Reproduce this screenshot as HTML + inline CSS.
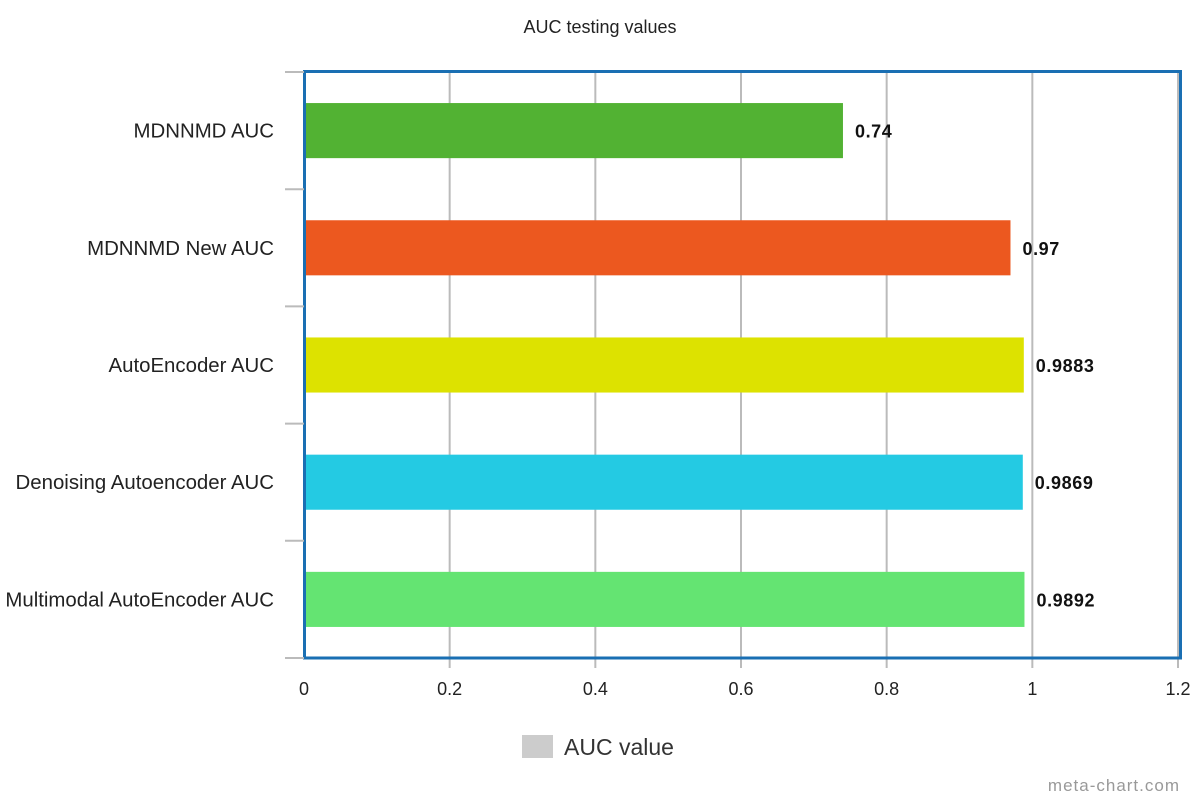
<!DOCTYPE html>
<html><head><meta charset="utf-8"><style>
html,body{margin:0;padding:0;background:#fff;}
svg{display:block;font-family:"Liberation Sans",Arial,sans-serif;}
</style></head><body>
<svg id="chart" width="1200" height="800" viewBox="0 0 1200 800">
<text x="600" y="33" text-anchor="middle" font-size="18" fill="#222">AUC testing values</text>
<g id="grid"></g>
<g id="bars"></g>
<g id="labels"></g>
<rect x="304.5" y="71.5" width="876" height="586.5" fill="none" stroke="#1a6fb3" stroke-width="3"/>
<g id="ticks"></g>
<g>
<rect x="522" y="735" width="31" height="23" fill="#cccccc"/>
<text x="564" y="755" font-size="23" fill="#333">AUC value</text>
</g>
<text x="1180" y="791" text-anchor="end" font-size="17" fill="#999" letter-spacing="1">meta-chart.com</text>
</svg>
<script>
const categories = ["MDNNMD AUC","MDNNMD New AUC","AutoEncoder AUC","Denoising Autoencoder AUC","Multimodal AutoEncoder AUC"];
const values = [0.74, 0.97, 0.9883, 0.9869, 0.9892];
const valueLabels = ["0.74","0.97","0.9883","0.9869","0.9892"];
const barColors = ["#52b233","#ec581f","#dde200","#24cae3","#64e472"];
const xTicks = [0, 0.2, 0.4, 0.6, 0.8, 1, 1.2];
const xTickLabels = ["0","0.2","0.4","0.6","0.8","1","1.2"];

const NS = "http://www.w3.org/2000/svg";
const x0 = 304, x1 = 1178, xmax = 1.2, yTop = 72, yBot = 658;
const xs = v => x0 + (v / xmax) * (x1 - x0);
const rowH = (yBot - yTop) / categories.length;
function mk(tag, attrs, parent){ const e = document.createElementNS(NS, tag); for (const k in attrs) e.setAttribute(k, attrs[k]); parent.appendChild(e); return e; }
const grid = document.getElementById('grid'), bars = document.getElementById('bars'), labels = document.getElementById('labels'), ticks = document.getElementById('ticks');

xTicks.forEach((t, i) => {
  if (t > 0) {
    const g = mk('line', {x1: xs(t), x2: xs(t), y1: yTop, y2: yBot + 10, stroke: '#bbbbbb', 'stroke-width': 2}, grid);
    
    
  }
  const tl = mk('text', {x: xs(t), y: 695, 'text-anchor': 'middle', 'font-size': 18, fill: '#222'}, ticks);
  tl.textContent = xTickLabels[i];
  
  
});
for (let i = 0; i <= categories.length; i++) {
  const y = yTop + i * rowH;
  const tk = mk('line', {x1: 285, x2: 304, y1: y, y2: y, stroke: '#bbbbbb', 'stroke-width': 2}, ticks);
  
  
}
categories.forEach((c, i) => {
  const cy = yTop + (i + 0.5) * rowH;
  const bh = rowH * 0.47;
  const r = mk('rect', {x: x0, y: cy - bh / 2, width: xs(values[i]) - x0, height: bh, fill: barColors[i]}, bars);
  
  
  const vl = mk('text', {x: xs(values[i]) + 12, y: cy + 7, 'font-size': 18, 'font-weight': 'bold', 'letter-spacing': 0.6, fill: '#111'}, labels);
  vl.textContent = valueLabels[i];
  
  
  const cl = mk('text', {x: 274, y: cy + 7, 'text-anchor': 'end', 'font-size': 20.4, fill: '#222'}, labels);
  cl.textContent = c;
  
  
});
</script>
</body></html>
